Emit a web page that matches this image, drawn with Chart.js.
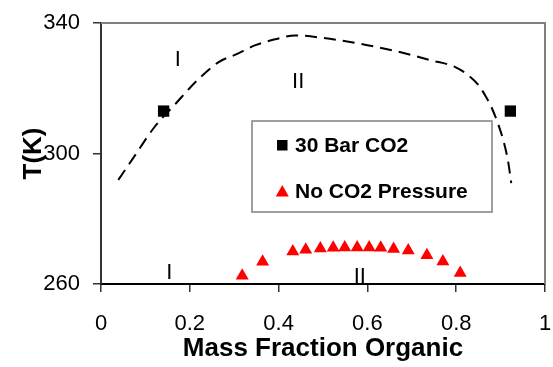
<!DOCTYPE html>
<html>
<head>
<meta charset="utf-8">
<script src="https://cdn.jsdelivr.net/npm/chart.js@4.4.0/dist/chart.umd.min.js"></script>
<style>
  body { margin: 0; background: #fff; }
  canvas { display: block; }
</style>
</head>
<body>
<canvas id="chart" width="553" height="367"></canvas>
<script>
// phase boundary (dashed curve)
const curveX = [0.039, 0.072, 0.121, 0.169, 0.202, 0.221, 0.266, 0.303, 0.348, 0.392, 0.437, 0.496, 0.600, 0.667, 0.701, 0.742, 0.798, 0.827, 0.850, 0.867, 0.879, 0.894, 0.907, 0.917, 0.924];
const curveT = [291.9, 298.5, 308.2, 315.4, 320.4, 323.0, 328.1, 330.3, 333.2, 335.0, 336.2, 335.5, 333.2, 331.3, 330.1, 328.6, 326.5, 324.0, 321.0, 317.4, 314.3, 309.2, 303.6, 297.5, 290.9];

// 30 Bar CO2
const barX = [0.141, 0.922];
const barT = [313, 313];

// No CO2 Pressure
const noX = [0.318, 0.364, 0.432, 0.461, 0.494, 0.523, 0.549, 0.577, 0.604, 0.630, 0.659, 0.692, 0.734, 0.770, 0.809];
const noT = [262.5, 266.8, 270.0, 270.5, 270.9, 271.1, 271.2, 271.2, 271.2, 271.1, 270.7, 270.3, 268.8, 266.9, 263.4];

// region labels
const regionText = ['I', 'II', 'I', 'II'];
const regionX = [0.173, 0.444, 0.154, 0.583];
const regionT = [328.6, 321.9, 263.5, 262.3];

const xTicks = [0, 0.2, 0.4, 0.6, 0.8, 1];
const yTicks = [260, 300, 340];

const toPts = (xs, ys) => xs.map((x, i) => ({ x: x, y: ys[i] }));

const FONT = '"Liberation Sans", Arial, sans-serif';

const extras = {
  id: 'extras',
  afterDatasetsDraw(chart) {
    const ctx = chart.ctx;
    const a = chart.chartArea;
    const xs = chart.scales.x, ys = chart.scales.y;

    // top and right frame
    ctx.save();
    ctx.strokeStyle = '#808080';
    ctx.lineWidth = 2;
    ctx.beginPath();
    ctx.moveTo(a.left, a.top);
    ctx.lineTo(a.right, a.top);
    ctx.lineTo(a.right, a.bottom);
    ctx.stroke();

    // region numerals
    ctx.fillStyle = '#000';
    ctx.font = '22px ' + FONT;
    ctx.textAlign = 'center';
    ctx.textBaseline = 'middle';
    regionText.forEach((t, i) => {
      ctx.fillText(t, xs.getPixelForValue(regionX[i]), ys.getPixelForValue(regionT[i]));
    });

    // legend box
    ctx.fillStyle = '#fff';
    ctx.fillRect(252, 121, 240, 91);
    ctx.strokeStyle = '#808080';
    ctx.lineWidth = 1.5;
    ctx.strokeRect(252, 121, 240, 91);

    ctx.fillStyle = '#000';
    ctx.fillRect(277, 140, 10.5, 10.5);
    ctx.fillStyle = '#ff0000';
    ctx.beginPath();
    ctx.moveTo(282.3, 185);
    ctx.lineTo(288.8, 196.5);
    ctx.lineTo(275.8, 196.5);
    ctx.closePath();
    ctx.fill();

    ctx.fillStyle = '#000';
    ctx.font = 'bold 21px ' + FONT;
    ctx.textAlign = 'left';
    ctx.fillText('30 Bar CO2', 295, 146);
    ctx.fillText('No CO2 Pressure', 295, 192);
    ctx.restore();
  }
};

new Chart(document.getElementById('chart'), {
  type: 'scatter',
  data: {
    datasets: [
      {
        label: 'boundary',
        data: toPts(curveX, curveT),
        showLine: true,
        borderColor: '#000',
        borderWidth: 2,
        borderDash: [12, 7],
        cubicInterpolationMode: 'monotone',
        pointRadius: 0,
        fill: false
      },
      {
        label: '30 Bar CO2',
        data: toPts(barX, barT),
        pointStyle: 'rect',
        pointRadius: 8,
        backgroundColor: '#000',
        borderColor: '#000',
        borderWidth: 0
      },
      {
        label: 'No CO2 Pressure',
        data: toPts(noX, noT),
        pointStyle: 'triangle',
        pointRadius: 7.5,
        backgroundColor: '#ff0000',
        borderColor: '#ff0000',
        borderWidth: 0
      }
    ]
  },
  options: {
    responsive: false,
    animation: false,
    layout: { padding: { top: 23, right: 0, left: 0, bottom: 0 } },
    plugins: {
      legend: { display: false },
      tooltip: { enabled: false }
    },
    scales: {
      x: {
        type: 'linear',
        min: 0,
        max: 1,
        afterBuildTicks: s => { s.ticks = xTicks.map(v => ({ value: v })); },
        afterFit: s => { s.height = 83; s.paddingLeft = 0; s.paddingRight = 0; s.paddingTop = 0; s.paddingBottom = 0; },
        ticks: {
          color: '#000',
          font: { family: FONT, size: 22 },
          padding: 19,
          maxRotation: 0,
          callback: v => String(v)
        },
        grid: { drawOnChartArea: false, drawTicks: true, tickLength: 8, color: '#333', lineWidth: 1.5 },
        border: { display: true, color: '#000', width: 2 },
        title: {
          display: true,
          text: 'Mass Fraction Organic',
          color: '#000',
          font: { family: FONT, size: 26, weight: 'bold' },
          padding: { top: 0, bottom: 3 }
        }
      },
      y: {
        type: 'linear',
        min: 260,
        max: 340,
        afterBuildTicks: s => { s.ticks = yTicks.map(v => ({ value: v })); },
        afterFit: s => { s.width = 101; s.paddingLeft = 0; s.paddingRight = 0; s.paddingTop = 0; s.paddingBottom = 0; },
        ticks: {
          color: '#000',
          font: { family: FONT, size: 22 },
          padding: 13
        },
        grid: { drawOnChartArea: false, drawTicks: true, tickLength: 8, color: '#333', lineWidth: 1.5 },
        border: { display: true, color: '#333', width: 2 },
        title: {
          display: true,
          text: 'T(K)',
          color: '#000',
          font: { family: FONT, size: 26, weight: 'bold' },
          padding: { top: 18, bottom: 0 }
        }
      }
    }
  },
  plugins: [extras]
});
</script>
</body>
</html>
